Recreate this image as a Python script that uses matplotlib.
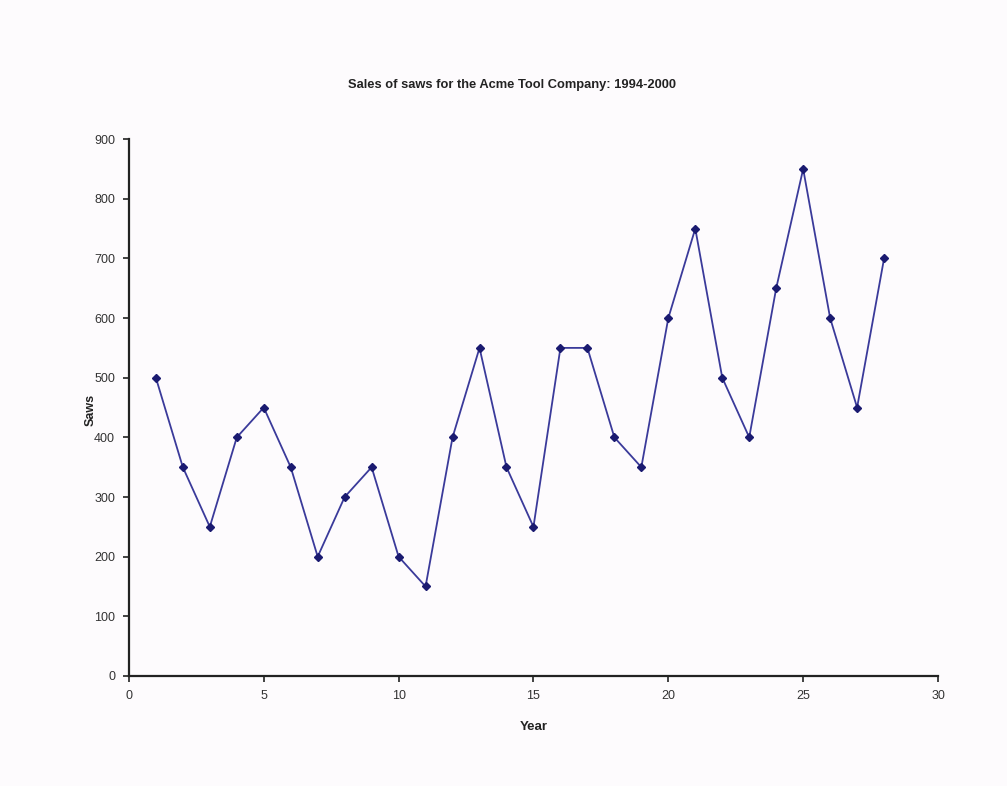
import matplotlib
matplotlib.use("Agg")
import matplotlib.pyplot as plt

plt.rcParams['font.family'] = ['Liberation Sans', 'DejaVu Sans']

periods = list(range(1, 29))
saws = [500, 350, 250, 400, 450, 350, 200, 300, 350, 200, 150, 400, 550, 350,
        250, 550, 550, 400, 350, 600, 750, 500, 400, 650, 850, 600, 450, 700]
x_ticks = [0, 5, 10, 15, 20, 25, 30]
y_ticks = [0, 100, 200, 300, 400, 500, 600, 700, 800, 900]

bg = '#fdfbfd'
fig = plt.figure(figsize=(10.07, 7.86), dpi=100, facecolor=bg)
ax = fig.add_axes([0.128, 0.140, 0.8035, 0.683], facecolor=bg)

ax.plot(periods, saws, color='#3a3a9a', linewidth=1.3,
        marker='D', markersize=4.5, markerfacecolor='#1a1a70',
        markeredgecolor='#1a1a70')

ax.set_xlim(0, 30)
ax.set_ylim(0, 900)
ax.set_xticks(x_ticks)
ax.set_yticks(y_ticks)
ax.tick_params(direction='out', length=4, width=1.2, labelsize=9,
               labelcolor='#333333', color='#222222', pad=6)
for side in ('top', 'right'):
    ax.spines[side].set_visible(False)
for side in ('left', 'bottom'):
    ax.spines[side].set_linewidth(1.6)
    ax.spines[side].set_color('#222222')

fig.text(0.508, 0.892, 'Sales of saws for the Acme Tool Company: 1994-2000',
         ha='center', va='center', fontsize=9.3, fontweight='bold', color='#222222')
ax.set_xlabel('Year', fontsize=9.5, fontweight='bold', color='#222222', labelpad=14)
ax.set_ylabel('Saws', fontsize=9, fontweight='bold', color='#222222')
ax.yaxis.set_label_coords(-0.040, 0.495)

fig.savefig('out.png', dpi=100, facecolor=bg)
